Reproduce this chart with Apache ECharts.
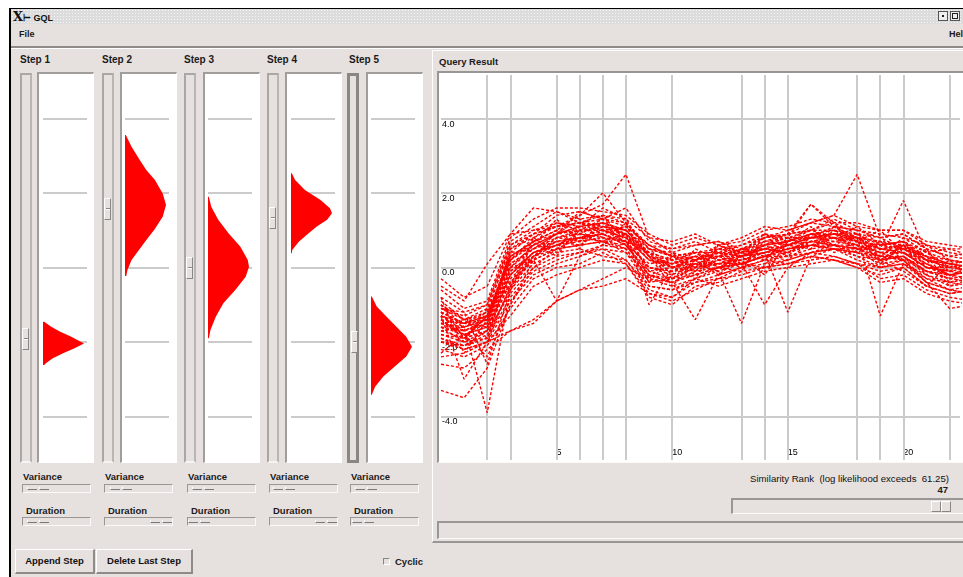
<!DOCTYPE html>
<html>
<head>
<meta charset="utf-8">
<title>GQL</title>
<script src="https://cdn.jsdelivr.net/npm/echarts@6.0.0/dist/echarts.min.js"></script>
<style>
*{box-sizing:border-box}
body{margin:0;width:963px;height:577px;overflow:hidden;background:#fff;position:relative;font-family:"Liberation Sans",Arial,sans-serif;font-size:10px;color:#111}
.a{position:absolute}
.win{left:9px;top:8px;width:960px;height:575px;background:#e6e0de;border-top:1px solid #000;border-left:2px solid #000}
.title{left:11px;top:9px;width:952px;height:15px;background-color:#dcdcdc;background-image:radial-gradient(#f6f6f6 0.7px,transparent 0.8px);background-size:3px 3px;font-weight:bold;font-size:9px;line-height:15px;padding-left:2px}
.lbl{font-weight:bold;font-size:10px;white-space:nowrap;color:#1a1a1a}
.box{background:#fff;border-top:2px solid #a19d9b;border-left:2px solid #a19d9b;border-right:1px solid #fff;border-bottom:1px solid #fff}
.trough{border:2px solid #aaa6a4;border-right-color:#b9b5b3;border-bottom-color:#f6f4f3}
.vthumb{width:7px;height:22px;border-top:1px solid #fff;border-left:1px solid #fff;border-right:1px solid #8a8684;border-bottom:1px solid #8a8684;background:#e6e0de}
.vthumb i{position:absolute;left:1px;top:9px;width:4px;height:2px;border-top:1px solid #8a8684;border-bottom:1px solid #fff}
.htr{height:9px;border-top:1px solid #9a9694;border-left:1px solid #9a9694;border-right:1px solid #fbfaf9;border-bottom:1px solid #fbfaf9}
.hth{height:3px;border-bottom:1px solid #7d7977;border-left:1px solid #fff}
.btn{border-top:1px solid #fff;border-left:1px solid #fff;border-right:2px solid #8e8a88;border-bottom:2px solid #8e8a88;font-weight:bold;font-size:9.5px;text-align:center;line-height:21px}
.sunk{border-top:2px solid #9a9694;border-left:2px solid #9a9694;border-right:1px solid #fbfaf9;border-bottom:1px solid #fbfaf9}
</style>
</head>
<body>
<div class="a win"></div>
<div class="a title"><span style="font:bold 13px 'DejaVu Serif'">X</span>&#8866; GQL</div>
<div class="a" style="left:938px;top:11px;width:10px;height:10px;border:1px solid #555;background:#eee"><div class="a" style="left:3px;top:3px;width:2px;height:2px;background:#222"></div></div>
<div class="a" style="left:950px;top:11px;width:10px;height:10px;border:1px solid #555;background:#eee"><div class="a" style="left:1px;top:1px;width:6px;height:6px;border:1px solid #222"></div></div>
<div class="a lbl" style="left:19px;top:29px;font-size:9px">File</div>
<div class="a lbl" style="left:949px;top:29px;font-size:9px">Help</div>
<div class="a" style="left:11px;top:46px;width:952px;height:2px;background:#8f8b89"></div>
<div class="a" style="left:11px;top:48px;width:952px;height:1px;background:#fff"></div>

<div class="a" style="left:432px;top:50px;width:531px;height:493px;border-top:1px solid #fff;border-left:1px solid #fff;border-bottom:2px solid #9a9694"></div>
<div class="a lbl" style="left:439px;top:56px;font-size:9.5px">Query Result</div>
<div class="a sunk" style="left:437px;top:71px;width:530px;height:392px;background:#fff"></div>
<div class="a" style="left:734px;top:473px;width:215px;text-align:right;font-size:9.6px;white-space:nowrap;color:#111">Similarity Rank&nbsp;&nbsp;(log likelihood exceeds&nbsp;&nbsp;61.25)</div>
<div class="a lbl" style="left:900px;top:484px;width:48px;text-align:right;font-size:9.5px">47</div>
<div class="a sunk" style="left:731px;top:498px;width:240px;height:16px"></div>
<div class="a" style="left:931px;top:501px;width:10px;height:11px;border-top:1px solid #fff;border-left:1px solid #fff;border-right:1px solid #8a8684;border-bottom:1px solid #8a8684"></div>
<div class="a" style="left:941px;top:501px;width:10px;height:11px;border-top:1px solid #fff;border-left:1px solid #fff;border-right:1px solid #8a8684;border-bottom:1px solid #8a8684"></div>
<div class="a sunk" style="left:437px;top:521px;width:534px;height:18px"></div>

<div class="a btn" style="left:15px;top:549px;width:80px;height:25px">Append Step</div>
<div class="a btn" style="left:96px;top:549px;width:97px;height:25px">Delete Last Step</div>
<div class="a" style="left:383px;top:558px;width:7px;height:7px;border-top:1px solid #8a8684;border-left:1px solid #8a8684;border-right:1px solid #fff;border-bottom:1px solid #fff"></div>
<div class="a lbl" style="left:395px;top:556px;font-size:9.5px">Cyclic</div>

<div id="steps"></div>
<div id="chart" class="a" style="left:0;top:0;width:963px;height:577px"></div>

<script>
// value scale shared by the step panels and the query plot
var yLimit = 5.17;
var yTicks = [4, 2, 0, -2, -4];
var xMax = 22.45;
var xLabelStep = 5;
// segment boundaries drawn as vertical grid lines in the query plot
var segBounds = [2, 3, 5, 6, 7, 8, 10, 13, 14, 15, 18, 19, 20, 22];

var stepNames = ['Step 1', 'Step 2', 'Step 3', 'Step 4', 'Step 5'];

// output distributions of each step: [relative density, value]
var step1Profile = [[0.03,-1.46],[0.2,-1.59],[0.41,-1.72],[0.69,-1.86],[1.0,-2.04],[0.77,-2.17],[0.49,-2.30],[0.24,-2.44],[0.07,-2.57],[0.03,-2.62]];
var step2Profile = [[0.02,3.56],[0.16,3.24],[0.36,2.89],[0.52,2.62],[0.73,2.35],[0.92,1.99],[1.0,1.68],[0.92,1.36],[0.71,1.01],[0.52,0.74],[0.34,0.47],[0.16,0.20],[0.06,-0.07],[0.03,-0.23]];
var step3Profile = [[0.02,1.90],[0.08,1.63],[0.25,1.28],[0.5,0.92],[0.79,0.56],[0.97,0.20],[1.0,0.02],[0.92,-0.25],[0.67,-0.60],[0.375,-0.96],[0.19,-1.32],[0.06,-1.68],[0.02,-1.90]];
var step4Profile = [[0.02,2.53],[0.1,2.35],[0.34,2.08],[0.72,1.81],[0.95,1.59],[1.0,1.46],[0.88,1.28],[0.63,1.10],[0.43,0.92],[0.19,0.69],[0.03,0.47],[0.02,0.38]];
var step5Profile = [[0.02,-0.78],[0.14,-1.05],[0.38,-1.32],[0.62,-1.59],[0.86,-1.86],[1.0,-2.13],[0.86,-2.39],[0.58,-2.66],[0.3,-2.93],[0.1,-3.20],[0.02,-3.42]];
var stepProfiles = [step1Profile, step2Profile, step3Profile, step4Profile, step5Profile];

// matched sequences, one value per time index 0..23
var queryLines = [
  [-1.2,-1.5,-1.6,0.5,0.8,1.2,1.1,1.6,1.3,0.3,-0.3,0.2,0.6,0.4,0.9,0.8,0.8,1.1,0.8,0.3,0.8,0.6,0.2,0.1],
  [-1.9,-2.1,-1.8,-0.6,0.1,0.4,0.5,0.3,0.2,-0.5,-0.6,-0.3,0.0,0.1,0.0,0.2,0.4,0.3,0.1,0.0,0.2,-0.4,-0.6,-0.5],
  [-0.9,-1.4,-1.2,0.6,0.9,1.4,1.5,1.3,1.6,0.7,0.5,0.6,0.7,0.4,0.8,1.0,1.2,1.1,1.0,0.9,0.8,0.4,0.5,0.3],
  [-2.0,-2.2,-2.0,-0.9,-0.2,0.1,0.3,0.5,0.2,-0.6,-0.8,-0.4,-0.3,0.0,0.2,0.1,0.3,0.2,0.0,-0.2,0.0,-0.5,-0.7,-0.6],
  [-1.5,-1.6,-3.9,-0.6,0.3,0.7,0.6,1.0,0.9,0.2,0.1,0.3,0.1,0.3,0.5,0.4,0.8,0.9,0.7,0.5,0.4,0.0,-0.2,-0.1],
  [-3.3,-3.5,-2.7,-1.0,0.0,0.5,0.6,0.7,0.4,-0.2,-0.4,-0.1,0.0,0.1,0.3,0.5,0.6,0.5,0.4,0.3,0.2,-0.1,-0.3,-0.2],
  [-1.0,-1.9,-1.3,0.3,0.7,0.9,1.3,1.0,0.7,0.4,0.2,-0.2,0.3,0.5,0.6,0.7,0.9,1.0,0.7,0.2,0.6,0.3,-0.1,0.2],
  [-1.3,-1.5,-1.2,0.2,0.8,1.1,1.4,1.7,2.5,0.8,0.4,0.2,0.5,0.3,0.6,0.9,1.0,0.8,1.1,0.6,0.7,0.2,0.1,0.0],
  [-0.5,-0.9,0.1,0.9,1.0,1.2,1.0,1.3,1.1,0.6,0.5,0.7,0.4,0.6,0.9,0.7,1.0,1.2,0.9,0.8,0.5,0.6,0.4,0.3],
  [-1.6,-1.8,-1.6,-0.2,0.4,0.6,0.9,0.8,0.7,0.0,-0.2,0.1,-0.1,-1.5,0.1,0.4,0.7,0.8,0.5,0.3,0.4,0.1,-0.2,-0.1],
  [-1.4,-1.9,-1.7,-0.4,0.3,0.8,0.7,1.1,1.0,0.3,0.0,-0.1,0.2,0.3,0.5,0.6,0.9,0.9,0.8,-1.3,0.1,-0.2,-0.5,-0.4],
  [-1.8,-2.0,-1.9,-0.5,0.2,0.5,0.8,0.9,0.6,-0.2,-0.3,0.0,0.1,0.2,0.4,-1.2,0.3,0.5,0.4,0.1,0.2,-0.3,-0.4,-0.5],
  [-1.1,-1.4,-1.3,0.2,0.6,0.9,1.1,1.2,0.9,0.3,0.2,0.4,0.5,0.6,0.8,0.9,1.2,1.4,2.5,0.8,0.9,0.5,0.3,0.2],
  [-2.0,-2.1,-1.7,-0.7,0.0,0.3,0.4,0.6,0.5,-0.3,-0.5,-0.3,-0.1,0.1,-1.0,0.0,0.4,0.6,0.3,0.0,0.1,-0.3,-0.6,-0.7],
  [-1.3,-1.7,-1.4,0.0,0.5,0.7,0.8,1.0,0.8,0.2,0.1,0.2,0.4,0.3,0.6,0.8,1.7,1.1,0.7,0.5,1.8,0.4,0.0,0.1],
  [-0.8,-1.2,-1.0,0.7,1.1,1.5,1.3,1.4,1.2,0.5,0.4,0.6,0.7,0.5,0.8,0.9,1.0,1.3,1.0,0.8,0.9,0.5,0.3,0.4],
  [-2.2,-2.4,-2.1,-1.1,-0.3,0.0,0.1,0.4,0.1,-0.7,-0.9,-0.6,-0.3,-0.2,0.0,0.1,0.2,0.3,0.1,-0.3,-0.2,-0.6,-0.8,-0.9],
  [-1.2,-1.5,-1.4,0.2,0.7,1.0,1.4,2.0,1.2,0.6,0.3,0.4,0.2,0.4,0.5,0.6,0.8,0.9,0.9,0.5,0.5,0.2,0.0,-0.1],
  [-1.6,-1.7,-1.5,-0.1,0.4,0.6,0.7,0.8,0.7,0.0,-0.1,0.1,0.1,0.2,0.4,0.5,0.6,0.7,0.6,0.4,0.4,0.0,-0.1,-0.2],
  [-1.4,-1.8,-1.6,-0.3,0.3,0.8,0.9,0.7,0.9,-0.1,0.0,0.2,0.3,0.1,0.3,0.6,0.7,0.6,0.5,0.5,0.6,0.2,0.1,0.0],
  [-1.9,-2.2,-2.0,-1.7,-1.4,-0.9,-0.6,-0.3,0.0,-0.3,-0.4,-1.4,-0.2,0.0,0.2,0.3,0.4,0.5,0.3,0.2,0.3,-0.2,-0.4,-0.3],
  [-1.3,-1.6,-1.3,0.0,0.2,-0.9,0.3,0.6,0.9,0.4,0.0,0.3,0.0,0.3,0.5,0.4,0.6,0.8,0.7,0.4,0.2,0.1,-0.2,0.0],
  [-1.0,-1.4,-1.1,0.5,0.9,1.1,1.2,1.1,1.0,0.5,0.3,0.0,0.6,0.4,0.6,0.7,0.9,0.8,0.8,0.7,0.6,0.3,0.2,0.1],
  [-1.7,-1.9,-1.7,-0.4,0.2,0.5,0.6,0.7,0.5,-0.4,-0.3,-0.2,0.0,0.1,0.3,0.3,0.5,0.6,0.4,0.2,0.3,-0.1,-0.3,-0.4],
  [-1.5,-1.7,-1.5,0.1,0.5,0.8,1.0,1.1,0.9,-1.0,0.0,0.2,-0.2,0.3,0.4,0.6,0.8,0.7,0.8,0.5,0.4,0.0,-0.1,0.0],
  [-0.6,-1.1,-0.9,0.8,1.3,1.6,1.6,1.5,1.4,0.9,0.6,0.8,0.6,0.7,1.0,1.1,1.3,1.2,1.2,1.0,1.0,0.6,0.5,0.5],
  [-2.0,-2.1,-1.9,-0.8,-0.1,0.2,0.4,0.5,0.4,-0.5,-0.6,-0.4,-0.2,0.0,0.1,0.2,0.4,0.5,0.2,0.0,0.1,-0.4,-0.6,-0.7],
  [-1.5,-1.8,-1.5,-0.2,0.4,0.7,0.8,0.9,0.7,0.0,-0.1,0.0,0.2,0.2,0.4,0.5,0.7,0.6,0.6,0.3,0.2,-0.4,-1.1,-1.0],
  [-1.2,-1.5,-1.3,0.3,0.7,1.0,0.9,1.2,1.0,0.4,0.2,0.3,0.3,0.5,0.7,0.6,0.8,0.9,0.7,0.6,0.7,0.3,0.1,0.0],
  [-1.3,-3.0,-2.0,-0.5,0.3,0.6,0.8,0.7,0.6,-0.1,-0.3,0.0,0.1,0.1,0.3,0.4,0.6,0.5,0.5,0.2,0.3,-0.1,-0.2,-0.3],
  [-1.8,-1.9,-1.3,0.1,0.5,0.9,1.0,1.0,0.8,0.2,0.0,0.1,0.3,0.3,0.4,0.6,0.8,0.8,0.6,0.4,0.5,0.1,-0.2,-0.1],
  [-1.1,-1.3,-1.0,0.6,1.0,1.1,1.2,1.3,1.2,0.5,0.3,0.4,0.4,0.4,0.7,0.8,1.0,1.0,0.9,0.6,0.7,0.4,0.2,0.1],
  [-1.6,-2.0,-1.7,-0.2,0.4,0.6,0.8,0.9,0.6,-0.2,-0.4,-0.2,0.0,0.2,0.3,0.5,0.6,0.6,0.5,0.3,0.3,-0.1,-0.3,-0.2],
  [-2.4,-2.3,-2.0,-1.3,-0.5,-0.2,0.0,0.2,0.1,-0.8,-1.0,-0.5,-0.4,-0.1,0.0,0.1,0.3,0.2,0.1,-0.1,0.0,-0.5,-0.7,-0.6],
  [-1.0,-1.6,-1.4,0.3,0.6,0.9,1.1,1.2,1.0,0.3,0.1,0.3,0.3,0.4,0.5,0.7,0.8,0.9,0.8,0.5,0.6,0.2,0.0,0.1],
  [-1.4,-1.5,-1.3,0.4,0.9,1.1,1.2,1.0,1.1,0.6,0.3,0.2,0.4,0.3,0.6,0.7,0.9,1.0,0.8,0.7,0.5,0.3,0.1,0.2],
  [-0.3,-0.8,-0.5,0.9,1.6,1.5,1.2,1.4,1.3,0.8,0.7,0.9,0.6,0.8,1.1,1.0,1.2,1.4,1.1,1.0,1.0,0.7,0.6,0.5],
  [-2.6,-2.7,-2.2,-1.7,-1.5,-0.9,-0.6,-0.5,-0.3,-0.7,-0.8,-0.3,-0.5,-0.3,-0.1,0.0,0.1,0.2,0.0,-0.4,-0.3,-0.7,-0.9,-1.0],
  [-1.7,-1.6,-1.4,0.4,0.5,0.9,1.5,1.3,0.8,0.4,-0.2,0.5,0.2,0.0,0.6,0.3,0.9,0.6,0.9,0.1,0.6,-0.2,0.2,-0.3],
  [-1.2,-2.0,-1.1,-0.5,0.8,0.4,1.0,0.6,1.2,-0.3,0.4,-0.1,0.5,0.4,0.2,0.8,0.5,1.0,0.4,0.7,0.2,0.5,-0.3,0.2],
  [-1.5,-1.4,-1.9,0.0,0.6,1.3,0.7,1.2,0.6,0.1,0.2,0.0,0.4,0.1,0.7,0.9,1.7,1.2,0.5,0.6,0.5,0.3,-0.4,-0.2],
  [-0.8,-2.3,-1.4,-0.1,0.3,0.5,1.2,0.9,1.1,0.3,-0.5,0.2,-0.1,0.5,0.3,0.2,0.7,0.8,0.6,0.0,0.7,0.0,0.0,0.3],
  [-2.3,-1.8,-2.4,-1.0,0.2,1.0,0.5,1.4,0.7,-0.4,0.3,0.4,0.0,-0.1,0.9,0.6,0.5,1.1,1.0,0.2,-0.1,-0.5,0.1,-0.2],
  [-1.1,-1.2,-2.6,-0.6,0.7,0.3,1.1,0.8,0.5,0.5,0.0,-0.3,0.6,0.3,-0.2,0.7,1.1,0.4,0.7,1.0,0.4,0.2,-0.5,-0.3]
];

// widget layout of the step column
var stepSliderX = [20, 102, 184, 267, 347];
var stepBoxX = [37, 120, 203, 285, 366];
var stepThumbY = [328, 198, 257, 207, 331];
var stepGridX = [43, 125, 208, 291, 371];
var subX = [22, 104, 187, 269, 350];
var varThumbX = [27, 110, 192, 273, 355];
var durThumbX = [27, 150, 188, 315, 352];

var html = [];
for (var i = 0; i < 5; i++) {
  html.push('<div class="a lbl" style="left:' + (stepSliderX[i] + (i == 4 ? 2 : 0)) + 'px;top:54px">' + stepNames[i] + '</div>');
  html.push('<div class="a trough" style="left:' + stepSliderX[i] + 'px;top:73px;width:12px;height:390px;' + (i == 4 ? 'border-color:#8a8684;border-width:3px;' : '') + '"></div>');
  html.push('<div class="a vthumb" style="left:' + (stepSliderX[i] + 2 + (i == 4 ? 2 : 0)) + 'px;top:' + stepThumbY[i] + 'px"><i></i></div>');
  html.push('<div class="a box" style="left:' + stepBoxX[i] + 'px;top:72px;width:57px;height:391px"></div>');
  html.push('<div class="a lbl" style="left:' + (subX[i] + 1) + 'px;top:471px;font-size:9.5px">Variance</div>');
  html.push('<div class="a htr" style="left:' + subX[i] + 'px;top:484px;width:69px"></div>');
  html.push('<div class="a hth" style="left:' + varThumbX[i] + 'px;top:487px;width:10px"></div><div class="a hth" style="left:' + (varThumbX[i] + 12) + 'px;top:487px;width:10px"></div>');
  html.push('<div class="a lbl" style="left:' + (subX[i] + 4) + 'px;top:505px;font-size:9.5px">Duration</div>');
  html.push('<div class="a htr" style="left:' + subX[i] + 'px;top:517px;width:69px"></div>');
  html.push('<div class="a hth" style="left:' + durThumbX[i] + 'px;top:520px;width:10px"></div><div class="a hth" style="left:' + (durThumbX[i] + 12) + 'px;top:520px;width:10px"></div>');
}
document.getElementById('steps').innerHTML = html.join('');

function profileSeries(idx, pts) {
  return {
    type: 'custom', xAxisIndex: idx, yAxisIndex: idx, silent: true, animation: false, z: 10,
    data: pts,
    renderItem: function (params, api) {
      if (params.dataIndex !== 0) return;
      var poly = [api.coord([0, pts[0][1]])];
      for (var k = 0; k < pts.length; k++) poly.push(api.coord(pts[k]));
      poly.push(api.coord([0, pts[pts.length - 1][1]]));
      return { type: 'polygon', shape: { points: poly }, style: { fill: '#ff0000' } };
    }
  };
}

function gridSeries(idx, marks) {
  return {
    type: 'line', xAxisIndex: idx, yAxisIndex: idx, data: [], silent: true, z: 1,
    markLine: {
      silent: true, symbol: 'none', animation: false, z: 1,
      lineStyle: { color: '#cbcbcb', width: 2, type: 'solid' },
      label: { show: false },
      data: marks
    }
  };
}

var grids = [], xAxes = [], yAxes = [], series = [];
for (var s = 0; s < 5; s++) {
  grids.push({ left: stepGridX[s], top: 75, width: 44, height: 385 });
  xAxes.push({ gridIndex: s, type: 'value', min: 0, max: 1.073, show: false });
  yAxes.push({ gridIndex: s, type: 'value', min: -yLimit, max: yLimit, show: false });
  series.push(gridSeries(s, yTicks.map(function (v) { return { yAxis: v }; })));
  series.push(profileSeries(s, stepProfiles[s]));
}

// query result plot
grids.push({ left: 441, top: 75, width: 522, height: 385 });
xAxes.push({
  gridIndex: 5, type: 'value', min: 0, max: xMax, interval: xLabelStep,
  axisLine: { show: false }, axisTick: { show: false }, splitLine: { show: false },
  axisLabel: {
    inside: true, align: 'left', margin: 3, fontSize: 9, color: '#000', fontFamily: 'Liberation Sans',
    formatter: function (v) { return (v > 0 && v % xLabelStep === 0) ? String(v) : ''; }
  }
});
yAxes.push({ gridIndex: 5, type: 'value', min: -yLimit, max: yLimit, show: false });

var qMarks = segBounds.map(function (x) { return { xAxis: x }; }).concat(yTicks.map(function (v) {
  return {
    yAxis: v,
    label: { show: true, position: 'insideStartBottom', distance: 1, formatter: v.toFixed(1), color: '#000', fontSize: 9, fontFamily: 'Liberation Sans' }
  };
}));
series.push(gridSeries(5, qMarks));

queryLines.forEach(function (d) {
  series.push({
    type: 'line', xAxisIndex: 5, yAxisIndex: 5, silent: true, animation: false, z: 3,
    symbol: 'none',
    data: d.map(function (v, k) { return [k, v]; }),
    lineStyle: { color: '#ff0000', width: 1.4, type: [3, 2] }
  });
});

var chart = echarts.init(document.getElementById('chart'));
chart.setOption({
  animation: false,
  grid: grids,
  xAxis: xAxes,
  yAxis: yAxes,
  series: series
});
window.onresize = chart.resize;
</script>
</body>
</html>
